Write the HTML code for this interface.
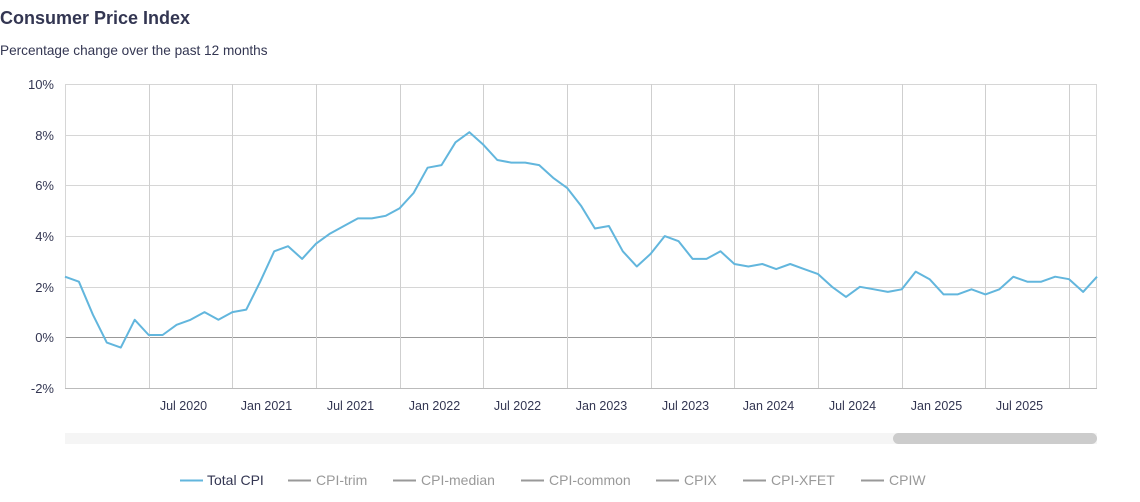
<!DOCTYPE html>
<html><head><meta charset="utf-8"><style>
body{margin:0;width:1140px;height:497px;background:#fff;font-family:"Liberation Sans",Arial,sans-serif;overflow:hidden}
</style></head><body>
<svg width="1140" height="497" xmlns="http://www.w3.org/2000/svg" font-family="Liberation Sans, Arial, sans-serif">
<text x="0" y="24" font-size="18" font-weight="bold" fill="#333652">Consumer Price Index</text>
<text x="0" y="55" font-size="13.6" fill="#333652">Percentage change over the past 12 months</text>
<g stroke="#d6d6d6" stroke-width="1">
<line x1="65" x2="1097" y1="84.5" y2="84.5"/><line x1="65" x2="1097" y1="135.5" y2="135.5"/><line x1="65" x2="1097" y1="185.5" y2="185.5"/><line x1="65" x2="1097" y1="236.5" y2="236.5"/><line x1="65" x2="1097" y1="287.5" y2="287.5"/>
</g>
<line x1="65" x2="1097" y1="337.5" y2="337.5" stroke="#999" stroke-width="1"/>
<g stroke="#cfcfcf" stroke-width="1" id="vg"></g>
<line x1="65" x2="1097" y1="388.5" y2="388.5" stroke="#bbb"/>
<line x1="65.5" x2="65.5" y1="84" y2="388" stroke="#d6d6d6"/>
<line x1="1096.5" x2="1096.5" y1="84" y2="388" stroke="#d6d6d6"/>
<g font-size="13" fill="#333652" text-anchor="end">
<text x="54" y="89">10%</text><text x="54" y="140">8%</text><text x="54" y="190">6%</text><text x="54" y="241">4%</text><text x="54" y="292">2%</text><text x="54" y="342">0%</text><text x="54" y="393">-2%</text>
</g>
<g font-size="12.5" fill="#333652" text-anchor="middle" id="xl"></g>
<polyline id="ln" fill="none" stroke="#62b6dd" stroke-width="2" stroke-linejoin="round"/>
<rect x="65" y="433" width="1032" height="11" fill="#f5f5f5"/>
<rect x="893" y="433" width="204" height="11" rx="5.5" fill="#cccccc"/>
<g font-size="14" fill="#999">
<line x1="180" x2="203" y1="480.5" y2="480.5" stroke="#62b6dd" stroke-width="2"/><text x="207" y="485" fill="#333652">Total CPI</text>
<line x1="288" x2="311" y1="480.5" y2="480.5" stroke="#999" stroke-width="2"/><text x="316" y="485">CPI-trim</text>
<line x1="393" x2="416" y1="480.5" y2="480.5" stroke="#999" stroke-width="2"/><text x="421" y="485">CPI-median</text>
<line x1="521" x2="544" y1="480.5" y2="480.5" stroke="#999" stroke-width="2"/><text x="549" y="485">CPI-common</text>
<line x1="656" x2="679" y1="480.5" y2="480.5" stroke="#999" stroke-width="2"/><text x="684" y="485">CPIX</text>
<line x1="743" x2="766" y1="480.5" y2="480.5" stroke="#999" stroke-width="2"/><text x="771" y="485">CPI-XFET</text>
<line x1="861" x2="884" y1="480.5" y2="480.5" stroke="#999" stroke-width="2"/><text x="889" y="485">CPIW</text>
</g>
</svg>
<script>
var d=[2.4,2.2,0.9,-0.2,-0.4,0.7,0.1,0.1,0.5,0.7,1.0,0.7,1.0,1.1,2.2,3.4,3.6,3.1,3.7,4.1,4.4,4.7,4.7,4.8,5.1,5.7,6.7,6.8,7.7,8.1,7.6,7.0,6.9,6.9,6.8,6.3,5.9,5.2,4.3,4.4,3.4,2.8,3.3,4.0,3.8,3.1,3.1,3.4,2.9,2.8,2.9,2.7,2.9,2.7,2.5,2.0,1.6,2.0,1.9,1.8,1.9,2.6,2.3,1.7,1.7,1.9,1.7,1.9,2.4,2.2,2.2,2.4,2.3,1.8,2.4];
var step=1032/(d.length-1);
function X(i){return 65+i*step}function Y(v){return 337.5-v*25.35}
document.getElementById('ln').setAttribute('points',d.map(function(v,i){return X(i).toFixed(1)+','+Y(v).toFixed(1)}).join(' '));
var ns='http://www.w3.org/2000/svg',vg=document.getElementById('vg'),xl=document.getElementById('xl');
var labs=['Jul 2020','Jan 2021','Jul 2021','Jan 2022','Jul 2022','Jan 2023','Jul 2023','Jan 2024','Jul 2024','Jan 2025','Jul 2025',''];
for(var k=0;k<12;k++){var x=Math.round(X(6+6*k))+0.5;var l=document.createElementNS(ns,'line');l.setAttribute('x1',x);l.setAttribute('x2',x);l.setAttribute('y1',84);l.setAttribute('y2',388);vg.appendChild(l);
if(labs[k]){var t=document.createElementNS(ns,'text');t.setAttribute('x',x+34);t.setAttribute('y',410);t.textContent=labs[k];xl.appendChild(t);}}
</script>
</body></html>
